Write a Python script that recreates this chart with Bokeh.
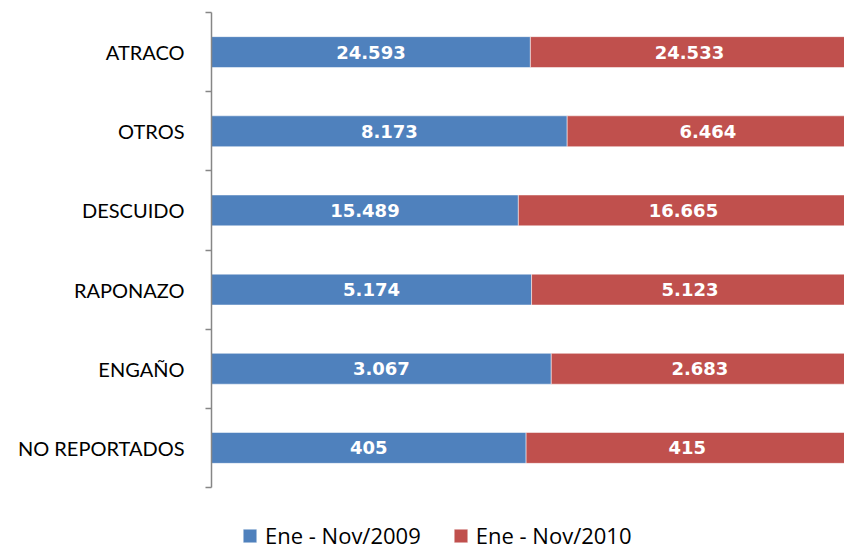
from bokeh.plotting import figure
from bokeh.models import ColumnDataSource, FixedTicker, Legend, LegendItem, Range1d
from bokeh.core.properties import value
from bokeh.embed import file_html
from bokeh.resources import INLINE

categories = ["ATRACO", "OTROS", "DESCUIDO", "RAPONAZO", "ENGAÑO", "NO REPORTADOS"]
v2009 = [24593, 8173, 15489, 5174, 3067, 405]
v2010 = [24533, 6464, 16665, 5123, 2683, 415]
series_names = ["Ene - Nov/2009", "Ene - Nov/2010"]

BLUE = "#4F81BD"
RED = "#C0504D"
CAT_FONT = "Lato"
LBL_FONT = "DejaVu Sans"
LEG_FONT = "Open Sans"

n = len(categories)
ys = [n - 0.5 - i for i in range(n)]
tot = [a + b for a, b in zip(v2009, v2010)]
f09 = [a / t for a, t in zip(v2009, tot)]
f10 = [b / t for b, t in zip(v2010, tot)]

def fmt(v):
    return f"{v:,}".replace(",", ".")

src = ColumnDataSource(dict(
    y=ys,
    l09=[0] * n, r09=f09,
    l10=f09, r10=[1] * n,
    c09=[f / 2 for f in f09],
    c10=[a + b / 2 for a, b in zip(f09, f10)],
    t09=[fmt(v) for v in v2009],
    t10=[fmt(v) for v in v2010],
))

W, H = 844, 550
LEFT, TOP = 211, 12
FULL_W = 637           # pixel width that corresponds to 100 %
ROW = 475 / n          # pixel height of one category band
frame_h = H - TOP
y_start = n - frame_h / ROW

p = figure(width=W, height=H, output_backend="svg", toolbar_location=None,
           x_range=Range1d(0, (W - LEFT) / FULL_W), y_range=Range1d(y_start, n),
           min_border_left=LEFT, min_border_right=0, min_border_top=TOP,
           min_border_bottom=0)
p.outline_line_color = None
p.xgrid.visible = False
p.ygrid.visible = False
p.xaxis.visible = False

r1 = p.hbar(y="y", left="l09", right="r09", height=0.39, source=src,
            fill_color=BLUE, line_color="white", line_alpha=0.5, line_width=1)
r2 = p.hbar(y="y", left="l10", right="r10", height=0.39, source=src,
            fill_color=RED, line_color="white", line_alpha=0.5, line_width=1)

for col_x, col_t in (("c09", "t09"), ("c10", "t10")):
    p.text(x=col_x, y="y", text=col_t, source=src, text_color="white",
           text_font=value(LBL_FONT), text_font_style="bold", text_font_size="18px",
           text_align="center", text_baseline="middle", y_offset=0)

ax = p.yaxis[0]
ax.bounds = (0, n)
ax.ticker = FixedTicker(ticks=ys, minor_ticks=list(range(n + 1)))
ax.major_label_overrides = {y: c for y, c in zip(ys, categories)}
ax.major_tick_line_color = None
ax.major_tick_out = 0
ax.major_tick_in = 0
ax.minor_tick_out = 6
ax.minor_tick_in = 0
ax.minor_tick_line_color = "#868686"
ax.minor_tick_line_width = 1.5
ax.axis_line_color = "#868686"
ax.axis_line_width = 1.5
ax.major_label_standoff = 21
ax.major_label_text_font = CAT_FONT
ax.major_label_text_font_size = "20px"
ax.major_label_text_color = "black"

legend = Legend(items=[LegendItem(label=series_names[0], renderers=[r1]),
                       LegendItem(label=series_names[1], renderers=[r2])],
                orientation="horizontal", location=(30, 0),
                glyph_width=17, glyph_height=17, label_text_font=LEG_FONT,
                label_text_font_size="22px", spacing=31, padding=0,
                margin=0, border_line_color=None, background_fill_alpha=0,
                label_standoff=7, label_text_color="black")
p.add_layout(legend, "center")

open("out.html", "w").write(file_html(p, INLINE))
